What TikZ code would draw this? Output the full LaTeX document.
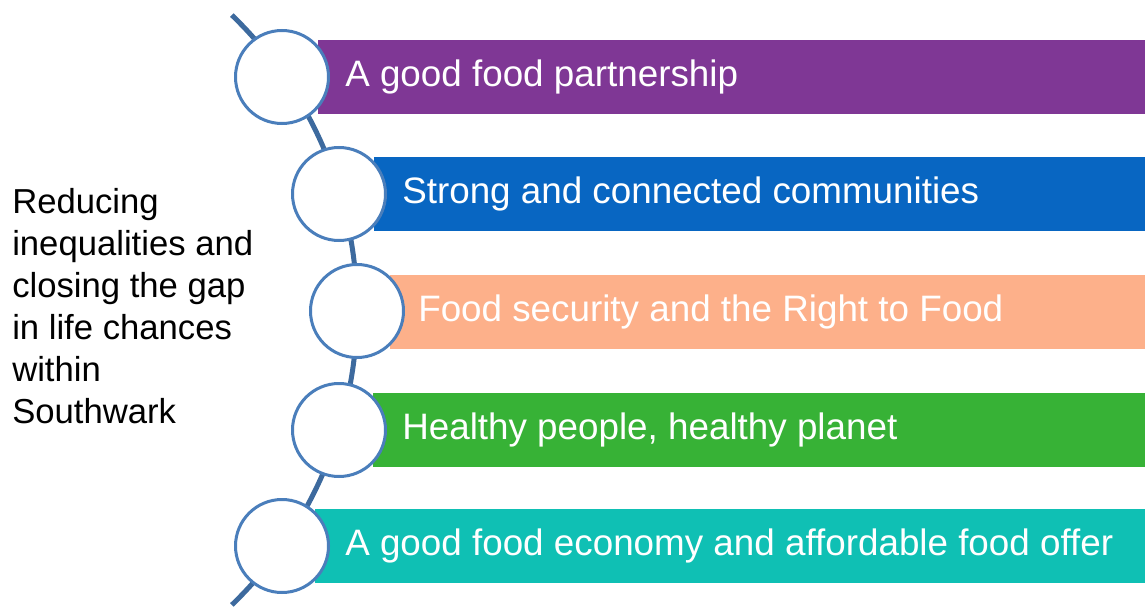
\documentclass[tikz,border=0pt]{standalone}
\usepackage{fontspec}
\setmainfont{Liberation Sans}
\usetikzlibrary{positioning}

\definecolor{spineblue}{HTML}{3D6A9E}
\definecolor{ringblue}{HTML}{4A7EBB}
\definecolor{barpurple}{HTML}{7F3795}
\definecolor{barblue}{HTML}{0866C2}
\definecolor{barsalmon}{HTML}{FDB08A}
\definecolor{bargreen}{HTML}{37B236}
\definecolor{barteal}{HTML}{0FC0B4}

\begin{document}
\begin{tikzpicture}[x=0.75pt,y=-0.75pt,
		ring/.style={circle,draw=ringblue,line width=2.25pt,fill=white,minimum size=69.75pt,inner sep=0pt},
		bar/.style={rectangle,anchor=west,minimum height=55.5pt,inner sep=0pt},
		bartext/.style={anchor=west,inner sep=0pt,text=white,font=\fontsize{27.6}{33}\selectfont},
		goal/.style={anchor=west,inner sep=0pt,align=left,font=\fontsize{26}{31.5}\selectfont}]
	\useasboundingbox (0,0) rectangle (1145,610);

	% the curved spine
	\draw[spineblue,line width=3.75pt] (-53,310) ++(-46:410) arc[start angle=-46,end angle=46,radius=410];

	% coloured bars
	\node[bar,fill=barpurple,minimum width=620.25pt] (b_1) at (318,77) {};
	\node[bar,fill=barblue,minimum width=578.25pt] (b_2) at (374,194) {};
	\node[bar,fill=barsalmon,minimum width=566.25pt] (b_3) at (390,311.5) {};
	\node[bar,fill=bargreen,minimum width=579pt] (b_4) at (373,430) {};
	\node[bar,fill=barteal,minimum width=622.5pt] (b_5) at (315,546) {};

	% rings on the spine
	\node[ring] (c_1) at (282,77) {};
	\node[ring] (c_2) at (339,194) {};
	\node[ring] (c_3) at (357,311) {};
	\node[ring] (c_4) at (339,430) {};
	\node[ring] (c_5) at (282,546) {};

	\node[bartext] (t_1) at (345,77) {A good food partnership};
	\node[bartext] (t_2) at (402,194) {Strong and connected communities};
	\node[bartext] (t_3) at (418,311.5) {Food security and the Right to Food};
	\node[bartext] (t_4) at (402,430) {Healthy people, healthy planet};
	\node[bartext] (t_5) at (345,546) {A good food economy and affordable food offer};

	\node[goal] (aim) at (12,306) {Reducing\\inequalities and\\closing the gap\\in life chances\\within\\Southwark};
\end{tikzpicture}
\end{document}
